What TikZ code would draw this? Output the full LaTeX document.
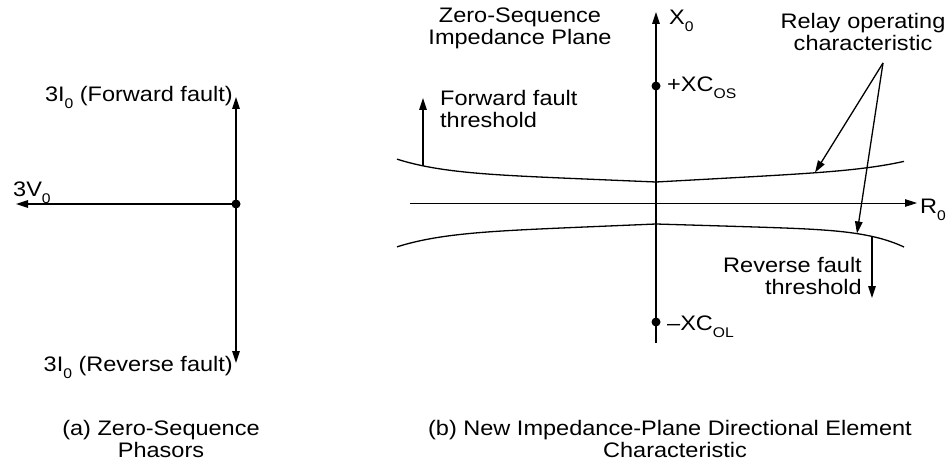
\documentclass[tikz,border=0pt]{standalone}
\usepackage{fontspec}
\setmainfont{Liberation Sans}[FakeStretch=1.12]
\usetikzlibrary{arrows.meta}
\newcommand\lowidx[1]{\raisebox{-7pt}{\fontsize{14}{14}\selectfont #1}}
\begin{document}
\begin{tikzpicture}[x=1pt,y=-1pt,
  every node/.style={inner sep=0pt,font=\fontsize{21}{22}\selectfont},
  lbl/.style={anchor=base},
  lblw/.style={anchor=base west},
  lble/.style={anchor=base east},
  arr/.style={line width=1.3pt,-{Triangle[length=12pt,width=7.5pt]}},
  axisthin/.style={line width=0.8pt,-{Triangle[length=12pt,width=7.5pt]}},
  curve/.style={line width=1.3pt},
  dotf/.style={circle,fill=black,minimum size=9pt,inner sep=0pt}]
\useasboundingbox (0,0) rectangle (949,465);

% ---------- (a) phasors ----------
\node[dotf] (O1) at (236,204) {};
\coordinate (Itop) at (236,97);
\coordinate (Ibot) at (236,363);
\coordinate (Vend) at (16,204);
\draw[arr] (O1.center) -- (Itop);
\draw[arr] (O1.center) -- (Ibot);
\draw[arr] (O1.center) -- (Vend);
\node[lble] (fwd) at (233,102) {3I\lowidx{0} (Forward fault)};
\node[lble] (rev) at (233,371) {3I\lowidx{0} (Reverse fault)};
\node[lblw] (v0) at (13,196) {3V\lowidx{0}};
\node[lbl] (capa1) at (161,435) {(a) Zero-Sequence};
\node[lbl] (capa2) at (161,457) {Phasors};

% ---------- (b) impedance plane ----------
\coordinate (Xbot) at (656,343);
\coordinate (Xtop) at (656,12);
\coordinate (Rleft) at (410,203);
\coordinate (Rright) at (917,203);
\draw[arr] (Xbot) -- (Xtop);
\draw[axisthin] (Rleft) -- (Rright);
\node[dotf] (XCOS) at (656,86) {};
\node[dotf] (XCOL) at (656,322) {};
\node[lblw] (xcosl) at (667,92) {+XC\lowidx{OS}};
\node[lblw] (xcoll) at (667,330) {\textendash XC\lowidx{OL}};
\node[lblw] (x0) at (669,25) {X\lowidx{0}};
\node[lblw] (r0) at (920,213) {R\lowidx{0}};

% characteristic curves
\draw[curve] plot[domain=0:259,samples=90,smooth] ({656-\x},{182-(0.042*\x+12*(\x/259)^6)});
\draw[curve] plot[domain=0:248,samples=90,smooth] ({656+\x},{182-(0.055*\x+7*(\x/248)^6)});
\draw[curve] plot[domain=0:259,samples=90,smooth] ({656-\x},{224+(0.042*\x+12*(\x/259)^6)});
\draw[curve] plot[domain=0:248,samples=90,smooth] ({656+\x},{224+(0.03*\x+15.6*(\x/248)^7)});

\node[lbl] (zs1) at (520,23) {Zero-Sequence};
\node[lbl] (zs2) at (520,45) {Impedance Plane};

% forward threshold
\coordinate (Fbase) at (423,165.8);
\coordinate (Ftip) at (423,98);
\draw[arr] (Fbase) -- (Ftip);
\node[lblw] (ff1) at (440,106) {Forward fault};
\node[lblw] (ff2) at (440,128) {threshold};

% reverse threshold
\coordinate (Rbase) at (872,236.4);
\coordinate (Rtip) at (872,298);
\draw[arr] (Rbase) -- (Rtip);
\node[lble] (rf1) at (862,272) {Reverse fault};
\node[lble] (rf2) at (862,294) {threshold};

% relay operating characteristic
\node[lbl] (roc1) at (863,29) {Relay operating};
\node[lbl] (roc2) at (863,51) {characteristic};
\coordinate (RelSrc) at (883,63);
\coordinate (RelUp) at (815,172.5);
\coordinate (RelLo) at (857,233.5);
\draw[arr] (RelSrc) -- (RelUp);
\draw[arr] (RelSrc) -- (RelLo);

\node[lbl] (capb1) at (670,435) {(b) New Impedance-Plane Directional Element};
\node[lbl] (capb2) at (675,457) {Characteristic};
\end{tikzpicture}
\end{document}
